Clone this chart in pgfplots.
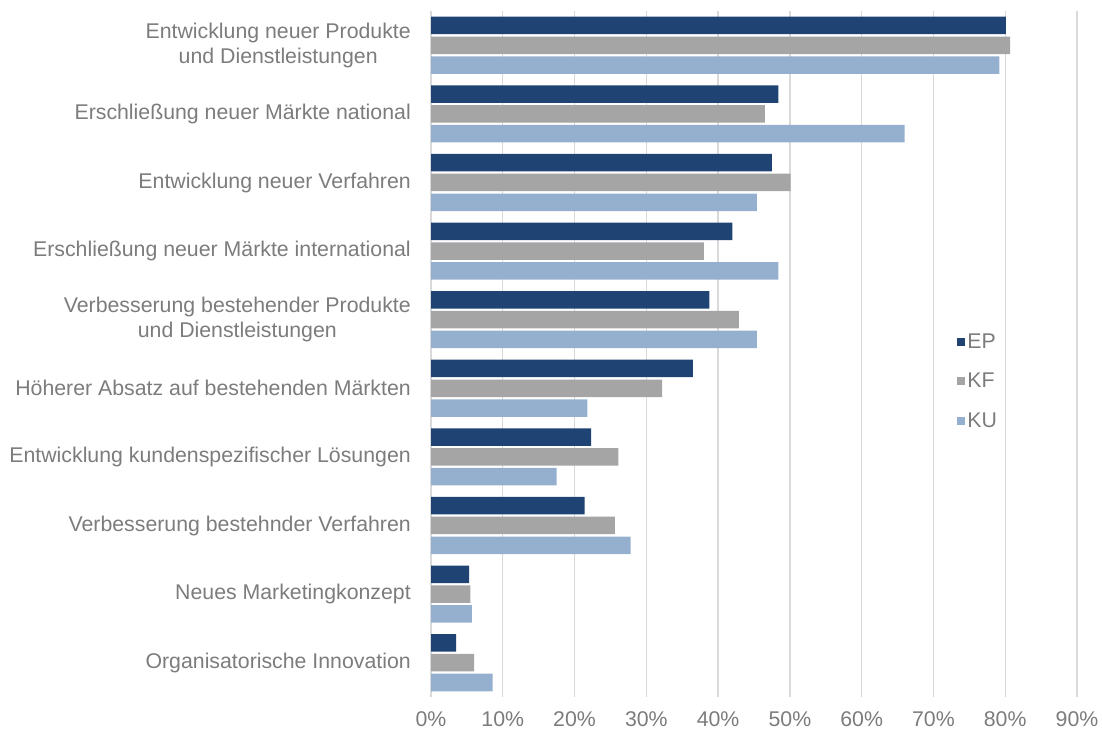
\documentclass[border=0pt]{standalone}
\usepackage{fontspec}
\setmainfont{Liberation Sans}
\usepackage{pgfplots}
\pgfplotsset{compat=1.18}

\definecolor{cEP}{RGB}{31,67,115}
\definecolor{cKF}{RGB}{165,165,165}
\definecolor{cKU}{RGB}{149,176,206}
\definecolor{gridc}{RGB}{217,217,217}
\definecolor{txt}{RGB}{124,124,124}

\pgfplotsset{sq legend/.style={legend image code/.code={\fill[##1] (0bp,-4bp) rectangle (8bp,4bp);}}}

\begin{document}
\begin{tikzpicture}
\path[use as bounding box] (0,0) rectangle (1102bp,731bp);
\begin{axis}[
  at={(431bp,34bp)}, anchor=south west,
  scale only axis, width=646bp, height=686bp,
  xbar, bar width=17.5bp,
  xmin=0, xmax=90, ymin=-0.5, ymax=9.5,
  xtick={0,10,...,90},
  xticklabels={0\%,10\%,20\%,30\%,40\%,50\%,60\%,70\%,80\%,90\%},
  ytick={0,...,9},
  yticklabels={Organisatorische Innovation, Neues Marketingkonzept,
    Verbesserung bestehnder Verfahren, Entwicklung kundenspezifischer Lösungen,
    Höherer Absatz auf bestehenden Märkten,
    {Verbesserung bestehender Produkte\\und Dienstleistungen},
    Erschließung neuer Märkte international, Entwicklung neuer Verfahren,
    Erschließung neuer Märkte national,
    {Entwicklung neuer Produkte\\und Dienstleistungen}},
  major tick length=0pt,
  axis line style={draw=none},
  xmajorgrids, major grid style={draw=gridc, line width=1.3bp},
  tick label style={font=\fontsize{21.3bp}{25.5bp}\selectfont, text=txt},
  yticklabel style={inner sep=0pt, xshift=-20bp, align=center},
  xticklabel style={inner sep=0pt, anchor=north, yshift=-14bp},
  legend style={at={(0.81,0.535)}, anchor=north west, draw=none, fill=none,
    font=\fontsize{21.3bp}{25.5bp}\selectfont, text=txt, row sep=19bp,
    legend cell align=left},
]
\addplot[fill=cEP, draw=none, bar shift=19.8bp, sq legend] coordinates
  {(3.5,0) (5.3,1) (21.4,2) (22.3,3) (36.5,4) (38.8,5) (42.0,6) (47.5,7) (48.4,8) (80.1,9)};
\addplot[fill=cKF, draw=none, bar shift=0bp, sq legend] coordinates
  {(6.0,0) (5.5,1) (25.6,2) (26.1,3) (32.2,4) (42.9,5) (38.0,6) (50.1,7) (46.5,8) (80.7,9)};
\addplot[fill=cKU, draw=none, bar shift=-19.8bp, sq legend] coordinates
  {(8.6,0) (5.7,1) (27.8,2) (17.5,3) (21.8,4) (45.4,5) (48.4,6) (45.4,7) (66.0,8) (79.2,9)};
\legend{EP,KF,KU}
\end{axis}
\end{tikzpicture}
\end{document}
